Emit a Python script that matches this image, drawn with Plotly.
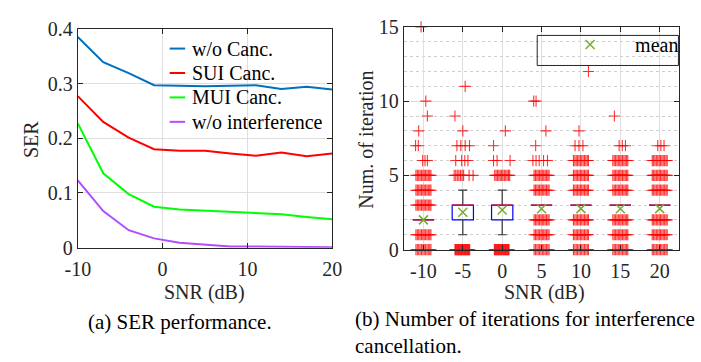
import numpy as np
import plotly.graph_objects as go

# ---------------- data: (a) SER performance ----------------
snr = [-10, -7, -4, -1, 2, 5, 8, 11, 14, 17, 20]
ser_wo_canc = [0.385, 0.339, 0.319, 0.297, 0.296, 0.295, 0.296, 0.297, 0.290, 0.294, 0.289]
ser_sui = [0.277, 0.230, 0.201, 0.180, 0.177, 0.177, 0.172, 0.168, 0.174, 0.167, 0.172]
ser_mui = [0.227, 0.136, 0.098, 0.075, 0.070, 0.068, 0.066, 0.064, 0.061, 0.056, 0.052]
ser_wo_int = [0.123, 0.067, 0.032, 0.017, 0.009, 0.005, 0.002, 0.002, 0.002, 0.001, 0.001]
series_names = ['w/o Canc.', 'SUI Canc.', 'MUI Canc.', 'w/o interference']

# ---------------- data: (b) iterations box plot ----------------
box_labels = ['-10', '-5', '0', '5', '10', '15', '20']
q1 = [2, 2, 2, 3, 3, 3, 3]
median = [2, 3, 3, 3, 3, 3, 3]
q3 = [2, 3, 3, 3, 3, 3, 3]
whisk_lo = [2, 1, 1, 3, 3, 3, 3]
whisk_hi = [2, 4, 4, 3, 3, 3, 3]
means = [2.0, 2.52, 2.66, 2.75, 2.76, 2.75, 2.76]

# outlier rows per group: value -> horizontal jitter ("D" dense, "F" very dense, or read offsets)
outliers = [
    {0: 'D', 1: 'D', 3: 'D', 4: 'D', 5: 'D', 6: [-0.02, 0.04, 0.10], 7: [-0.20, -0.13], 8: [-0.12], 9: [0.10], 10: [0.06], 15: [-0.06]},
    {0: 'F', 5: [-0.22, -0.18, -0.14, -0.10, -0.06, -0.02, 0.02, 0.16, 0.26], 6: [-0.18, -0.03, 0.05, 0.13], 7: [-0.15, -0.05, 0.06, 0.17], 8: [0.0], 9: [-0.20], 11: [0.06]},
    {0: 'F', 5: 'D', 6: [-0.22, -0.13, 0.20], 7: [-0.22], 8: [0.08]},
    {0: 'D', 1: 'D', 2: 'D', 4: 'D', 5: 'D', 6: [-0.22, -0.14, -0.06, 0.05, 0.15], 7: [-0.15], 8: [0.11], 10: [-0.20, -0.14]},
    {0: 'D', 1: 'D', 2: 'D', 4: 'D', 5: 'D', 6: 'D', 7: [-0.15, -0.05, 0.05], 8: [-0.05], 12: [0.19]},
    {0: 'D', 1: 'D', 2: 'D', 4: 'D', 5: 'D', 6: 'D', 7: [-0.03, 0.05, 0.13], 9: [-0.15]},
    {0: 'D', 1: 'D', 2: 'D', 4: 'D', 5: 'D', 6: 'D', 7: [-0.05, 0.03, 0.11]},
]

# ---------------- style ----------------
W, H = 701, 362
FONT = "'Liberation Serif', 'Times New Roman', Tinos, 'DejaVu Serif', serif"
AXC = '#262626'
GRID = '#dfdfdf'
COLORS = ['#0072BD', '#FF0000', '#00FF00', '#B24DFF']
DENSE = [-0.19, -0.155, -0.12, -0.085, -0.05, -0.015, 0.02, 0.055, 0.09, 0.125, 0.16, 0.19]
FULL = list(np.arange(-0.20, 0.18, 0.015))
BOXW = 0.54
CAPW = 0.23
LEG_ROWS = [40, 66, 92, 118]


def px(x):
    return x / W


def py(y):
    return 1 - y / H


fig = go.Figure()

# ---- left chart
for name, ys, col in zip(series_names, [ser_wo_canc, ser_sui, ser_mui, ser_wo_int], COLORS):
    fig.add_trace(go.Scatter(x=snr, y=ys, mode='lines', name=name,
                             line=dict(color=col, width=2), xaxis='x', yaxis='y',
                             showlegend=False, cliponaxis=False))

# ---- right chart: box parts
bx, by, wx, wy, mx, my = [], [], [], [], [], []
for i in range(len(box_labels)):
    p = i + 1
    l, r = p - BOXW / 2, p + BOXW / 2
    bx += [l, r, r, l, l, None]
    by += [q1[i], q1[i], q3[i], q3[i], q1[i], None]
    if whisk_hi[i] > q3[i]:
        wx += [p, p, None, p - CAPW / 2, p + CAPW / 2, None]
        wy += [q3[i], whisk_hi[i], None, whisk_hi[i], whisk_hi[i], None]
    if whisk_lo[i] < q1[i]:
        wx += [p, p, None, p - CAPW / 2, p + CAPW / 2, None]
        wy += [q1[i], whisk_lo[i], None, whisk_lo[i], whisk_lo[i], None]
    mx += [l, r, None]
    my += [median[i], median[i], None]

fig.add_trace(go.Scatter(x=bx, y=by, mode='lines', line=dict(color='#0000FF', width=1.2),
                         xaxis='x2', yaxis='y2', showlegend=False, hoverinfo='skip'))
fig.add_trace(go.Scatter(x=wx, y=wy, mode='lines', line=dict(color='#333333', width=1.2),
                         xaxis='x2', yaxis='y2', showlegend=False, hoverinfo='skip'))
fig.add_trace(go.Scatter(x=mx, y=my, mode='lines', line=dict(color='#FF0000', width=1.2),
                         xaxis='x2', yaxis='y2', showlegend=False, hoverinfo='skip'))

ox, oy = [], []
for i, rows in enumerate(outliers):
    p = i + 1
    for val, offs in rows.items():
        if offs == 'D':
            offs = DENSE
        elif offs == 'F':
            offs = FULL
        for o in offs:
            ox.append(p + o)
            oy.append(val)
fig.add_trace(go.Scatter(x=ox, y=oy, mode='markers', cliponaxis=False,
                         marker=dict(symbol='cross-thin', size=8, color='rgba(255,0,0,0.8)',
                                     line=dict(width=1.1, color='rgba(255,0,0,0.8)')),
                         xaxis='x2', yaxis='y2', showlegend=False, hoverinfo='skip'))

fig.add_trace(go.Scatter(x=list(range(1, len(box_labels) + 1)), y=means, mode='markers',
                         name='\u00a0\u00a0\u00a0\u00a0\u00a0mean',
                         marker=dict(symbol='x-thin', size=9, color='#77AC30',
                                     line=dict(width=1.5, color='#77AC30')),
                         xaxis='x2', yaxis='y2', legend='legend2'))

axis_common = dict(showline=True, linecolor=AXC, linewidth=1, mirror='ticks',
                   ticks='inside', ticklen=5, tickcolor=AXC, showgrid=True,
                   gridcolor=GRID, gridwidth=1, zeroline=False,
                   tickfont=dict(family=FONT, size=20, color=AXC))

shapes = [dict(type='rect', xref='paper', yref='paper', x0=px(542), x1=px(688),
               y0=py(58), y1=py(26), line=dict(color=AXC, width=1), layer='above')]
# manual legend samples for chart (a)
for row, col in zip(LEG_ROWS, COLORS):
    shapes.append(dict(type='line', xref='paper', yref='paper', x0=px(162), x1=px(178),
                       y0=py(row), y1=py(row), line=dict(color=col, width=2), layer='above'))

fig.update_layout(
    width=W, height=H, margin=dict(l=0, r=0, t=0, b=0),
    paper_bgcolor='white', plot_bgcolor='white',
    font=dict(family=FONT),
    xaxis=dict(domain=[px(67), px(330)], range=[-10, 20], tickvals=[-10, 0, 10, 20],
               ticktext=['-10', '0', '10', '20'], anchor='y', ticklabelstandoff=3, **axis_common),
    yaxis=dict(domain=[py(252), py(19)], range=[0, 0.4], tickvals=[0, 0.1, 0.2, 0.3, 0.4],
               ticktext=['0', '0.1', '0.2', '0.3', '0.4'], anchor='x', **axis_common),
    xaxis2=dict(domain=[px(404), px(689)], range=[0.5, 7.5],
                tickvals=list(range(1, len(box_labels) + 1)), ticktext=box_labels,
                anchor='y2', ticklabelstandoff=3, **axis_common),
    yaxis2=dict(domain=[py(254), py(17)], range=[0, 15], tickvals=[0, 5, 10, 15],
                anchor='x2',
                minor=dict(dtick=1, showgrid=True, griddash='dot', gridcolor='#cfcfcf',
                           gridwidth=1, ticks=''),
                **axis_common),
    legend2=dict(x=px(576), y=py(15), xanchor='left', yanchor='top',
                 bgcolor='rgba(0,0,0,0)', borderwidth=0,
                 font=dict(family=FONT, size=20, color='black')),
    shapes=shapes,
)

for row, name in zip(LEG_ROWS, series_names):
    fig.add_annotation(text=name, x=px(183), y=py(row), xref='paper', yref='paper',
                       showarrow=False, xanchor='left', yanchor='middle',
                       font=dict(family=FONT, size=20, color='black'))

ann = [
    ('SER', 18, 137, -90, 20),
    ('Num. of iteration', 365, 137, -90, 20),
    ('SNR (dB)', 198, 300, 0, 20),
    ('SNR (dB)', 550, 300, 0, 20),
]
for t, x, y, ang, fs in ann:
    fig.add_annotation(text=t, x=px(x), y=py(y), xref='paper', yref='paper', showarrow=False,
                       textangle=ang, xanchor='center', yanchor='middle',
                       font=dict(family=FONT, size=fs, color=AXC))

fig.add_annotation(text='(a) SER performance.', x=px(173), y=py(331), xref='paper', yref='paper',
                   showarrow=False, xanchor='center', yanchor='middle',
                   font=dict(family=FONT, size=21, color='black'))
fig.add_annotation(text='(b) Number of iterations for interference<br>cancellation.',
                   x=px(352), y=py(342), xref='paper', yref='paper', showarrow=False,
                   xanchor='left', yanchor='middle', align='left',
                   font=dict(family=FONT, size=21, color='black'))

fig.write_html('out.html')
